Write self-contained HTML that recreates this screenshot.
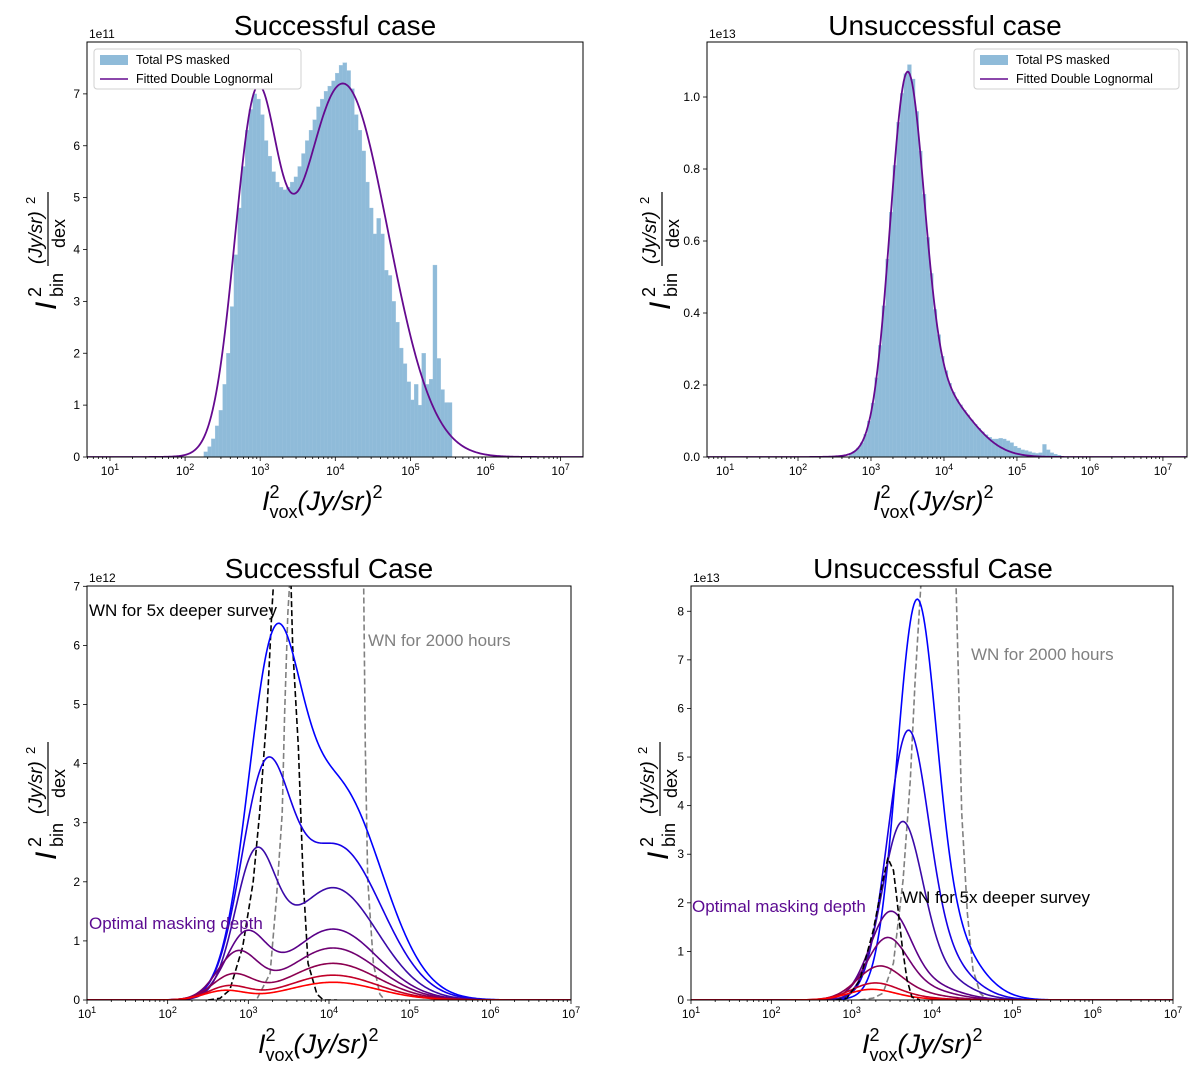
<!DOCTYPE html>
<html><head><meta charset="utf-8"><style>
body{margin:0;background:#fff}
svg{display:block;font-family:"Liberation Sans","DejaVu Sans",sans-serif}
</style></head><body>
<svg id="fig" width="1200" height="1084" viewBox="0 0 1200 1084" xmlns="http://www.w3.org/2000/svg"></svg>
<script>
// ---- data ----
const hist1Start = 2.25, hist1Step = 0.05;
const hist1Values = [0.1,0.2,0.35,0.6,0.9,1.4,2.0,2.9,3.9,4.8,5.6,6.3,6.7,7.0,6.9,6.6,6.1,5.8,5.5,5.3,5.2,5.15,5.2,5.3,5.4,5.6,5.85,6.1,6.3,6.5,6.75,6.9,7.05,7.15,7.25,7.4,7.55,7.6,7.45,7.1,6.6,6.3,5.9,5.3,4.8,4.3,4.6,4.3,3.6,3.5,3.0,2.6,2.1,1.8,1.45,1.1,1.4,1.0,2.0,1.4,1.5,3.7,1.9,1.3,1.05,1.05];
const fit1Params = [[6.0,2.93,0.28],[7.2,4.1,0.6]];
const hist2Start = 2.70, hist2Step = 0.05;
const hist2Values = [0.01,0.016,0.025,0.04,0.063,0.1,0.15,0.22,0.31,0.42,0.55,0.68,0.81,0.93,1.01,1.065,1.09,1.05,0.96,0.85,0.73,0.61,0.51,0.41,0.34,0.28,0.24,0.205,0.18,0.16,0.145,0.13,0.117,0.103,0.091,0.08,0.07,0.062,0.055,0.05,0.05,0.052,0.05,0.045,0.04,0.03,0.025,0.02,0.018,0.015,0.012,0.01,0.012,0.035,0.02,0.012,0.008,0.005];
const fit2Params = [[0.95,3.49,0.23],[0.18,3.9,0.45]];
// bottom-left masking curves: [A1,m1,s1,A2,m2,s2]
const bl_A1 = [5.0,3.37,2.16,1.0,0.75,0.4,0.22,0.15];
const bl_m1 = [3.3,3.2,3.08,2.96,2.86,2.8,2.75,2.7];
const bl_s1 = [0.32,0.3,0.25,0.25,0.25,0.25,0.25,0.25];
const bl_A2 = [3.6,2.6,1.9,1.2,0.88,0.62,0.42,0.3];
const bl_m2 = [4.1,4.1,4.05,4.05,4.05,4.05,4.05,4.05];
const bl_s2 = [0.55,0.55,0.55,0.55,0.55,0.55,0.55,0.55];
const br_A1 = [7.1,4.8,3.24,1.6,1.12,0.6,0.3,0.19];
const br_m1 = [3.8,3.69,3.62,3.47,3.43,3.33,3.27,3.23];
const br_s1 = [0.24,0.25,0.25,0.25,0.25,0.27,0.28,0.28];
const br_A2 = [1.5,1.0,0.6,0.35,0.25,0.15,0.07,0.04];
const br_m2 = [4.1,4.0,3.95,3.85,3.8,3.7,3.6,3.55];
const br_s2 = [0.4,0.4,0.4,0.4,0.4,0.4,0.4,0.4];
const curveColors = ['#0000ff','#1500e6','#3a0aa8','#5a0088','#700070','#8c0050','#c00028','#ff0000'];
// dashed white-noise curves (log10 x, value)
const blBlackX = [2.5,2.65,2.77,2.93,3.06,3.14,3.23,3.29,3.31,3.42,3.53,3.55,3.62,3.68,3.74,3.85,3.93,4.1];
const blBlackY = [0,0.03,0.17,0.9,2.0,3.16,4.85,6.55,7.0,9.0,7.0,5.97,4.28,2.03,0.62,0.1,0,0];
const blGrayX = [2.9,3.1,3.27,3.35,3.42,3.45,3.49,3.51,3.9,4.43,4.45,4.48,4.55,4.63,4.69,4.9];
const blGrayY = [0,0,0.45,1.75,3.16,4.85,6.55,7.0,9.0,7.0,4.3,2.03,0.62,0.1,0,0];
const brBlackX = [2.8,2.94,3.1,3.27,3.39,3.45,3.52,3.56,3.63,3.69,3.75,3.85];
const brBlackY = [0,0.04,0.4,1.44,2.47,2.92,2.67,2.12,1.09,0.41,0.06,0];
const brGrayX = [3.1,3.27,3.39,3.52,3.64,3.73,3.79,3.84,3.86,4.1,4.3,4.33,4.37,4.44,4.51,4.6,4.69,4.9];
const brGrayY = [0,0.04,0.14,0.76,2.47,4.53,6.58,7.96,8.5,10,8.5,6.58,3.85,1.79,0.62,0.14,0,0];
const yTicks1 = [0,1,2,3,4,5,6,7];
const yTicks2 = [0,0.2,0.4,0.6,0.8,1.0];
const yTicks3 = [0,1,2,3,4,5,6,7];
const yTicks4 = [0,1,2,3,4,5,6,7,8];
const xDecades = [1,2,3,4,5,6,7];
const fitColor = '#650a8f';

// ---- helpers ----
const NS='http://www.w3.org/2000/svg';
const svg=document.getElementById('fig');
function el(tag,attrs,parent){const e=document.createElementNS(NS,tag);for(const k in attrs)e.setAttribute(k,attrs[k]);(parent||svg).appendChild(e);return e;}
function gauss(x,A,m,s){return A*Math.exp(-(x-m)*(x-m)/(2*s*s));}

function makePanel(p){
  const g=el('g',{});
  
  
  p.g=g;
  p.X=lx=>p.x0+(lx-p.lx0)/(p.lx1-p.lx0)*(p.x1-p.x0);
  p.Y=v=>p.y0-(v/p.vmax)*(p.y0-p.y1);
  const cid='clip-'+p.name;
  const cp=el('clipPath',{id:cid},g);
  el('rect',{x:p.x0,y:p.y1,width:p.x1-p.x0,height:p.y0-p.y1},cp);
  p.plot=el('g',{'clip-path':'url(#'+cid+')'},g);
  
  
  return p;
}
function drawAxes(p,yTicks,fmt){
  const g=p.g;
  const frame=el('rect',{x:p.x0,y:p.y1,width:p.x1-p.x0,height:p.y0-p.y1,fill:'none',stroke:'#000','stroke-width':1},g);
  
  
  for(let d=Math.floor(p.lx0);d<=Math.ceil(p.lx1);d++){
    for(let k=1;k<10;k++){
      const lx=d+Math.log10(k);
      if(lx<p.lx0-1e-6||lx>p.lx1+1e-6)continue;
      const x=p.X(lx);
      el('line',{x1:x,x2:x,y1:p.y0,y2:p.y0+(k===1?4:2),stroke:'#000','stroke-width':0.8},g);
    }
  }
  xDecades.forEach(d=>{
    if(d<p.lx0-1e-6||d>p.lx1+1e-6)return;
    const x=p.X(d);
    const t=el('text',{x:x,y:p.y0+18,'font-size':12,'text-anchor':'middle'},g);
    
    
    const a=el('tspan',{},t);a.textContent='10';
    const b=el('tspan',{dy:-5,'font-size':9},t);b.textContent=String(d);
  });
  yTicks.forEach(v=>{
    const y=p.Y(v);
    el('line',{x1:p.x0-4,x2:p.x0,y1:y,y2:y,stroke:'#000','stroke-width':0.8},g);
    const t=el('text',{x:p.x0-7,y:y+4,'font-size':12,'text-anchor':'end'},g);
    
    
    t.textContent=fmt(v);
  });
  const o=el('text',{x:p.x0+2,y:p.y1-4,'font-size':12},g);
  
  
  o.textContent=p.offset;
  const ti=el('text',{x:p.tx,y:p.ty,'font-size':28,'text-anchor':'middle'},g);
  
  
  ti.textContent=p.title;
  const xl=el('text',{x:p.xlx,y:p.xly,'font-size':27},g);
  
  
  let s=el('tspan',{'font-style':'italic'},xl);s.textContent='I';
  s=el('tspan',{dy:-12,'font-size':18},xl);s.textContent='2';
  s=el('tspan',{dx:-10,dy:20,'font-size':18},xl);s.textContent='vox';
  s=el('tspan',{dy:-8,'font-style':'italic'},xl);s.textContent='(Jy/sr)';
  s=el('tspan',{dy:-12,'font-size':18},xl);s.textContent='2';
  const yl=el('g',{transform:'translate('+p.ylx+','+p.yly+') rotate(-90)'},g);
  
  
  let t=el('text',{x:0,y:8,'font-size':30,'font-style':'italic'},yl);t.textContent='I';
  t=el('text',{x:13,y:-7,'font-size':18},yl);t.textContent='2';
  t=el('text',{x:13,y:15,'font-size':18},yl);t.textContent='bin';
  t=el('text',{x:46,y:-6,'font-size':19,'font-style':'italic'},yl);t.textContent='(Jy/sr)';
  t=el('text',{x:106,y:-13,'font-size':13},yl);t.textContent='2';
  el('line',{x1:44,x2:118,y1:0,y2:0,stroke:'#000','stroke-width':1.2},yl);
  t=el('text',{x:62,y:17,'font-size':18},yl);t.textContent='dex';
}
function drawHist(p,start,step,vals){
  vals.forEach((v,i)=>{
    const xa=p.X(start+i*step), xb=p.X(start+(i+1)*step);
    const r=el('rect',{x:xa,y:p.Y(v),width:xb-xa+0.3,height:p.y0-p.Y(v),fill:'#8fbbd9',stroke:'#9fc6e0','stroke-width':0.3},p.plot);
    
    
  });
}
function drawModel(p,fn,color,name,w,a0,a1){
  let d='';
  for(let i=0;i<=400;i++){const lx=a0+(a1-a0)*i/400;d+=(i?'L':'M')+p.X(lx).toFixed(2)+','+p.Y(fn(lx)).toFixed(2);}
  const path=el('path',{d:d,fill:'none',stroke:color,'stroke-width':w||1.6},p.plot);
  
  
}
function drawPts(p,xs,ys,color,name){
  const d=xs.map((x,i)=>(i?'L':'M')+p.X(x).toFixed(2)+','+p.Y(ys[i]).toFixed(2)).join('');
  const path=el('path',{d:d,fill:'none',stroke:color,'stroke-width':1.6,'stroke-dasharray':'6,3','stroke-linejoin':'round'},p.plot);
  
  
}
function legend(p,x,y,w){
  const g=el('g',{},p.g);
  
  
  el('rect',{x:x,y:y,width:w,height:40,rx:3,fill:'#fff',stroke:'#d0d0d0','stroke-width':1},g);
  const e1=el('g',{},g);
  
  
  el('rect',{x:x+6,y:y+6,width:28,height:10,fill:'#8fbbd9'},e1);
  let t=el('text',{x:x+42,y:y+15,'font-size':12.5},e1);t.textContent='Total PS masked';
  const e2=el('g',{},g);
  
  
  el('line',{x1:x+6,x2:x+34,y1:y+30,y2:y+30,stroke:fitColor,'stroke-width':1.6},e2);
  t=el('text',{x:x+42,y:y+34,'font-size':12.5},e2);t.textContent='Fitted Double Lognormal';
}
function label(p,x,y,txt,color,name){
  const t=el('text',{x:x,y:y,'font-size':17,fill:color},p.g);
  
  
  t.textContent=txt;
}

// ---- panel 1 ----
const p1=makePanel({name:'panel-successful-histogram',x0:87,x1:583,y0:457,y1:42,lx0:0.694,lx1:7.298,vmax:8.0,offset:'1e11',title:'Successful case',tx:335,ty:35,xlx:262,xly:510,ylx:48,yly:310});
drawHist(p1,hist1Start,hist1Step,hist1Values);
drawModel(p1,x=>fit1Params.reduce((s,q)=>s+gauss(x,q[0],q[1],q[2]),0),fitColor,'fit-curve',1.8,0.7,7.3);
drawAxes(p1,yTicks1,v=>String(v));
legend(p1,94,49,207);

// ---- panel 2 ----
const p2=makePanel({name:'panel-unsuccessful-histogram',x0:707,x1:1187,y0:457,y1:42,lx0:0.753,lx1:7.33,vmax:1.1528,offset:'1e13',title:'Unsuccessful case',tx:945,ty:35,xlx:873,xly:510,ylx:662,yly:310});
drawHist(p2,hist2Start,hist2Step,hist2Values);
drawModel(p2,x=>fit2Params.reduce((s,q)=>s+gauss(x,q[0],q[1],q[2]),0),fitColor,'fit-curve',1.8,0.75,7.33);
drawAxes(p2,yTicks2,v=>v.toFixed(1));
legend(p2,974,49,205);

// ---- panel 3 ----
const p3=makePanel({name:'panel-successful-masking',x0:87,x1:571,y0:1000,y1:586,lx0:1,lx1:7,vmax:7.005,offset:'1e12',title:'Successful Case',tx:329,ty:578,xlx:258,xly:1053,ylx:48,yly:860});
drawPts(p3,blBlackX,blBlackY,'#000','wn-5x-deeper-curve');
drawPts(p3,blGrayX,blGrayY,'#808080','wn-2000-hours-curve');
bl_A1.forEach((a,i)=>{
  drawModel(p3,x=>gauss(x,a,bl_m1[i],bl_s1[i])+gauss(x,bl_A2[i],bl_m2[i],bl_s2[i]),curveColors[i],'masking-curve-'+(i+1),1.6,1,7);
});
drawAxes(p3,yTicks3,v=>String(v));
label(p3,89,616,'WN for 5x deeper survey','#000','wn-5x-label');
label(p3,368,646,'WN for 2000 hours','#808080','wn-2000-label');
label(p3,89,929,'Optimal masking depth','#5b0a91','optimal-masking-label');

// ---- panel 4 ----
const p4=makePanel({name:'panel-unsuccessful-masking',x0:691,x1:1173,y0:1000,y1:586,lx0:1,lx1:7,vmax:8.52,offset:'1e13',title:'Unsuccessful Case',tx:933,ty:578,xlx:862,xly:1053,ylx:660,yly:860});
drawPts(p4,brGrayX,brGrayY,'#808080','wn-2000-hours-curve');
br_A1.forEach((a,i)=>{
  drawModel(p4,x=>gauss(x,a,br_m1[i],br_s1[i])+gauss(x,br_A2[i],br_m2[i],br_s2[i]),curveColors[i],'masking-curve-'+(i+1),1.6,1,7);
});
drawPts(p4,brBlackX,brBlackY,'#000','wn-5x-deeper-curve');
drawAxes(p4,yTicks4,v=>String(v));
label(p4,971,660,'WN for 2000 hours','#808080','wn-2000-label');
label(p4,902,903,'WN for 5x deeper survey','#000','wn-5x-label');
label(p4,692,912,'Optimal masking depth','#5b0a91','optimal-masking-label');
</script>
</body></html>
